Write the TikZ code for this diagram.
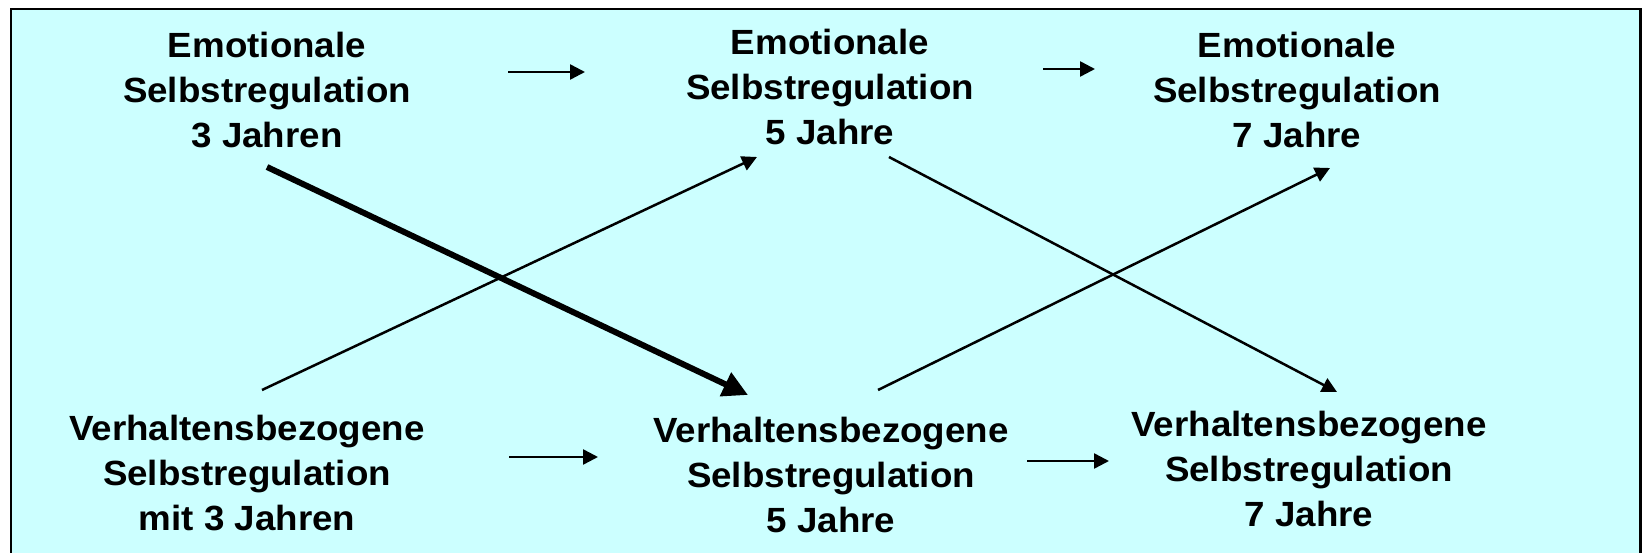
\documentclass[tikz,border=0pt]{standalone}
\usepackage{fontspec}
\setmainfont{Liberation Sans}[FakeStretch=1.05]
\usetikzlibrary{arrows.meta}
\definecolor{bgcyan}{RGB}{204,255,255}
\begin{document}
\begin{tikzpicture}[x=1pt,y=-1pt,
  lbl/.style={align=center,font=\fontsize{35}{45}\selectfont\bfseries,inner sep=0pt,anchor=north},
  arr/.style={line width=2.5pt,-{Triangle[length=15pt,width=15pt]}},
  thickarr/.style={line width=6pt,-{Triangle[length=25pt,width=25pt]}}]
\clip (0,0) rectangle (1642,553);
\draw[line width=2.3pt, fill=bgcyan] (11,9) rectangle (1640.5,600);
% nodes
\node[lbl] (E3) at (267,31.5) {Emotionale\\Selbstregulation\\3 Jahren};
\node[lbl] (E5) at (830,28.5) {Emotionale\\Selbstregulation\\5 Jahre};
\node[lbl] (E7) at (1297,31.5) {Emotionale\\Selbstregulation\\7 Jahre};
\node[lbl] (V3) at (247,414.5) {Verhaltensbezogene\\Selbstregulation\\mit 3 Jahren};
\node[lbl] (V5) at (831,416.5) {Verhaltensbezogene\\Selbstregulation\\5 Jahre};
\node[lbl] (V7) at (1309,411) {Verhaltensbezogene\\Selbstregulation\\7 Jahre};
% connector end points
\coordinate (e3r) at (508,72);
\coordinate (e5l) at (585,72);
\coordinate (e5r) at (1043,69);
\coordinate (e7l) at (1095,69);
\coordinate (v3r) at (509,457);
\coordinate (v5l) at (598,457);
\coordinate (v5r) at (1027,461);
\coordinate (v7l) at (1109,461);
\coordinate (e3d) at (267,167);
\coordinate (v5u) at (748,395);
\coordinate (v3u) at (262,390);
\coordinate (e5d) at (757,157);
\coordinate (e5dr) at (889,157);
\coordinate (v7u) at (1337,392);
\coordinate (v5ur) at (878,390);
\coordinate (e7d) at (1330,168);
% connectors
\draw[arr] (e3r) -- (e5l);
\draw[arr] (e5r) -- (e7l);
\draw[arr] (v3r) -- (v5l);
\draw[arr] (v5r) -- (v7l);
\draw[arr] (v3u) -- (e5d);
\draw[arr] (e5dr) -- (v7u);
\draw[arr] (v5ur) -- (e7d);
\draw[thickarr] (e3d) -- (v5u);
\end{tikzpicture}
\end{document}
